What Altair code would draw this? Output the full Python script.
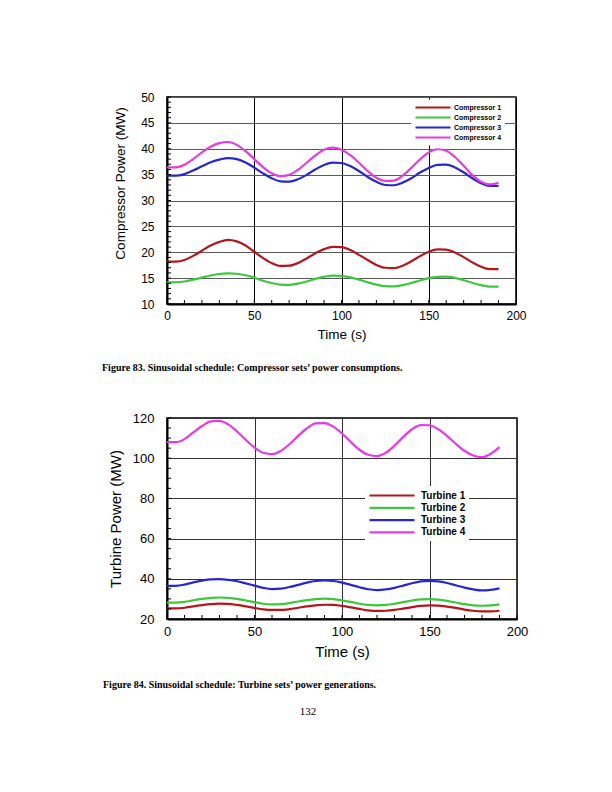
import altair as alt
import pandas as pd

# ---------------- data ----------------
time = list(range(0, 195, 5))

comp1 = [18.2, 18.2, 18.5, 19.3, 20.3, 21.3, 22.0, 22.4, 22.1, 21.3, 20.1, 18.9, 17.9, 17.35,
         17.4, 17.9, 18.8, 19.8, 20.6, 21.05, 21.0, 20.45, 19.5, 18.5, 17.55, 17.0, 16.95, 17.4,
         18.25, 19.25, 20.1, 20.55, 20.5, 19.95, 19.05, 18.05, 17.2, 16.75, 16.75]
comp2 = [14.2, 14.2, 14.35, 14.7, 15.1, 15.5, 15.8, 15.9, 15.85, 15.55, 15.1, 14.5, 14.05, 13.75,
         13.7, 13.95, 14.35, 14.85, 15.25, 15.5, 15.45, 15.15, 14.7, 14.2, 13.75, 13.45, 13.4, 13.65,
         14.05, 14.55, 15.0, 15.25, 15.3, 15.05, 14.6, 14.1, 13.65, 13.35, 13.35]
comp3 = [34.8, 34.8, 35.1, 35.8, 36.6, 37.4, 37.9, 38.2, 38.0, 37.35, 36.35, 35.25, 34.3, 33.7,
         33.65, 34.1, 34.95, 36.0, 36.85, 37.3, 37.25, 36.65, 35.7, 34.55, 33.6, 33.0, 32.95, 33.45,
         34.3, 35.4, 36.3, 36.9, 36.95, 36.4, 35.45, 34.3, 33.35, 32.8, 32.8]
comp4 = [36.4, 36.4, 36.9, 38.0, 39.3, 40.4, 41.1, 41.3, 40.75, 39.55, 38.0, 36.45, 35.25, 34.7,
         34.95, 35.9, 37.3, 38.7, 39.8, 40.2, 39.8, 38.75, 37.3, 35.7, 34.4, 33.8, 33.85, 34.8,
         36.3, 37.95, 39.3, 39.9, 39.6, 38.4, 36.7, 34.9, 33.6, 33.1, 33.4]

turb1 = [25.3, 25.3, 25.6, 26.3, 26.9, 27.4, 27.6, 27.5, 27.0, 26.3, 25.5, 24.8, 24.5, 24.5,
         24.9, 25.6, 26.3, 26.8, 27.1, 27.0, 26.5, 25.8, 25.0, 24.3, 24.0, 24.1, 24.5, 25.2,
         25.9, 26.5, 26.8, 26.7, 26.2, 25.5, 24.7, 24.1, 23.8, 23.8, 24.1]
turb2 = [28.1, 28.1, 28.5, 29.3, 30.0, 30.5, 30.7, 30.5, 30.0, 29.2, 28.4, 27.6, 27.3, 27.4,
         27.9, 28.7, 29.4, 29.9, 30.1, 29.9, 29.3, 28.5, 27.6, 27.0, 26.8, 27.0, 27.6, 28.4,
         29.2, 29.8, 29.9, 29.6, 29.0, 28.2, 27.4, 26.8, 26.6, 26.8, 27.3]
turb3 = [36.5, 36.5, 37.1, 38.2, 39.1, 39.7, 39.8, 39.5, 38.8, 37.7, 36.6, 35.5, 34.9, 35.1,
         35.9, 37.0, 38.1, 38.9, 39.2, 38.9, 38.1, 37.0, 35.8, 34.8, 34.4, 34.7, 35.5, 36.6,
         37.8, 38.7, 39.0, 38.7, 37.9, 36.8, 35.6, 34.7, 34.2, 34.5, 35.2]
turb4 = [108.0, 108.0, 109.5, 112.8, 116.0, 118.3, 118.6, 116.8, 113.3, 109.1, 105.3, 102.7, 102.05, 103.6,
         106.95, 111.1, 114.9, 117.3, 117.5, 115.7, 112.3, 108.1, 104.2, 101.7, 101.05, 102.7, 106.2, 110.6,
         114.4, 116.5, 116.4, 114.4, 111.1, 107.2, 103.7, 101.3, 100.5, 102.2, 105.5]

comp_names = ["Compressor 1", "Compressor 2", "Compressor 3", "Compressor 4"]
turb_names = ["Turbine 1", "Turbine 2", "Turbine 3", "Turbine 4"]
colors = ["#B8141C", "#3CC83C", "#2626D4", "#E63AE6"]

x_major = [0, 50, 100, 150, 200]
x_minor = list(range(0, 201, 10))
y1_major = list(range(10, 51, 5))
y1_minor = list(range(10, 51, 1))
y2_major = list(range(20, 121, 20))
y2_minor = list(range(20, 121, 5))

caption1 = "Figure 83. Sinusoidal schedule: Compressor sets\u2019 power consumptions."
caption2 = "Figure 84. Sinusoidal schedule: Turbine sets\u2019 power generations."
page_no = "132"

# ---------------- tables ----------------
def long_table(names, series):
    rows = []
    for n, s in zip(names, series):
        for t, v in zip(time, s):
            rows.append({"time": t, "power": v, "series": n})
    return pd.DataFrame(rows)

df1 = long_table(comp_names, [comp1, comp2, comp3, comp4])
df2 = long_table(turb_names, [turb1, turb2, turb3, turb4])

W1, H1 = 349, 207
W2, H2 = 350, 201
SANS = "Liberation Sans"
SERIF = "Liberation Serif"


def panel(df, names, W, H, ydom, ymaj, ymin, lab_size, title_size, ytitle,
          ytitle_x, ytitle_y, xtitle_y, hgrid_color, vgrid_color,
          leg_x, leg_y, leg_font, sym_path, sym_size, leg_row_pad, leg_label_off,
          caption, cap_x, cap_y, extra=None):
    xs = alt.Scale(domain=[0, 200], nice=False, zero=False)
    ys = alt.Scale(domain=ydom, nice=False, zero=False)
    ax_x = alt.Axis(
        values=x_major, title="Time (s)", grid=True, gridColor=vgrid_color,
        gridWidth=1, ticks=False, tickSize=0, labelPadding=6.5,
        labelFontSize=lab_size, labelFont=SANS, titleFont=SANS,
        titleFontSize=title_size, titleFontWeight="normal",
        titleBaseline="alphabetic", titleY=xtitle_y, titleX=W / 2,
        domainColor="black", domainWidth=2, labelColor="black",
        titleColor="black", labelFlush=False, labelOverlap=False)
    ax_y = alt.Axis(
        values=ymaj, title=ytitle, grid=True, gridColor=hgrid_color,
        gridWidth=1, ticks=False, tickSize=0, labelPadding=13,
        labelFontSize=lab_size, labelFont=SANS, titleFont=SANS,
        titleFontSize=title_size, titleFontWeight="normal",
        titleX=ytitle_x, titleY=ytitle_y, titleAngle=270,
        titleBaseline="alphabetic", titleAlign="center",
        domainColor="black", domainWidth=2, labelColor="black",
        titleColor="black", labelFlush=False, labelOverlap=False)
    lines = alt.Chart(df).mark_line(interpolate="monotone", strokeWidth=2.2).encode(
        x=alt.X("time:Q", scale=xs, axis=ax_x),
        y=alt.Y("power:Q", scale=ys, axis=ax_y),
        color=alt.Color("series:N", scale=alt.Scale(domain=names, range=colors),
                        legend=alt.Legend(
                            orient="none", legendX=leg_x, legendY=leg_y, title=None,
                            fillColor="white", padding=3, symbolType=sym_path,
                            symbolSize=sym_size, symbolStrokeWidth=2.2,
                            labelFont=SANS, labelFontWeight="bold",
                            labelFontSize=leg_font, labelColor="black",
                            rowPadding=leg_row_pad, labelOffset=leg_label_off,
                            symbolOffset=0)),
    )
    xt = alt.Chart(pd.DataFrame({"time": x_minor})).mark_rule(
        color="black", strokeWidth=1).encode(
        x=alt.X("time:Q", scale=xs, axis=ax_x), y=alt.value(H), y2=alt.value(H - 4))
    yt = alt.Chart(pd.DataFrame({"power": ymin})).mark_rule(
        color="black", strokeWidth=1).encode(
        y=alt.Y("power:Q", scale=ys, axis=ax_y), x=alt.value(0), x2=alt.value(4))
    cap = alt.Chart(pd.DataFrame({"caption": [caption]})).mark_text(
        align="left", baseline="middle", font=SERIF, fontWeight="bold",
        fontSize=10, color="black").encode(
        text="caption:N", x=alt.value(cap_x), y=alt.value(cap_y))
    layers = [lines, xt, yt, cap]
    if extra is not None:
        layers.append(extra)
    return alt.layer(*layers).properties(
        width=W, height=H,
        view=alt.ViewBackground(stroke="black", strokeWidth=1.5))


top = panel(df1, comp_names, W1, H1, [10, 50], y1_major, y1_minor, 12, 13.5,
            "Compressor Power (MW)", -43, 86, 34.7, "#5a5a5a", "black",
            244, 2.5, 7, "M-1,0H9", 49, -2.3, 30, caption1, -65, 271)

page = alt.Chart(pd.DataFrame({"page": [page_no]})).mark_text(
    align="center", baseline="middle", font=SERIF, fontSize=11, color="black").encode(
    text="page:N", x=alt.value(141), y=alt.value(294))

bottom = panel(df2, turb_names, W2, H2, [20, 120], y2_major, y2_minor, 13, 15,
               "Turbine Power (MW)", -47, H2 / 2, 37.7, "#333333", "#333333",
               198, 68, 10, "M-1,0H8", 100, 0.3, 40, caption2, -64, 267, extra=page)

chart = alt.vconcat(top, bottom, spacing=37).resolve_scale(
    color="independent").properties(
    padding={"left": 93, "top": 82, "right": 5, "bottom": 5},
    background="white"
).configure_view(stroke="black", strokeWidth=1.5)

chart.save("out.html", embed_options={"renderer": "svg", "actions": False})
